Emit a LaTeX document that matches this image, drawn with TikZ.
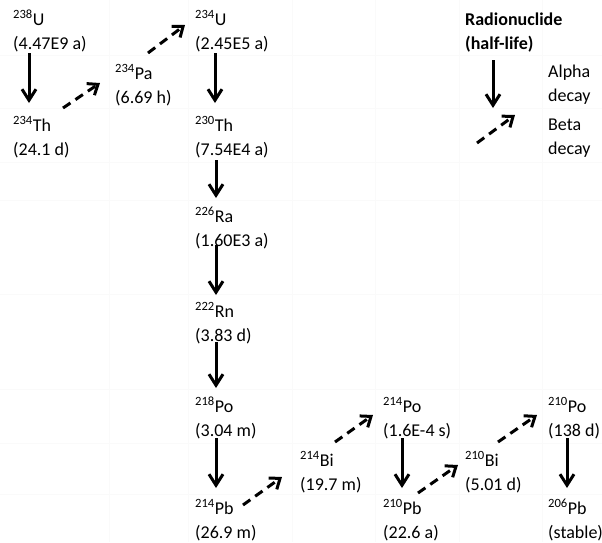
\documentclass[tikz,border=0pt]{standalone}
\usepackage{fontspec}
\setmainfont{Carlito}
\usetikzlibrary{arrows.meta,calc}
\definecolor{gridc}{RGB}{250,250,250}
\begin{document}
\begin{tikzpicture}[x=1pt,y=-1pt,
  nuc/.style={anchor=base west,inner sep=0pt,font=\fontsize{18}{24}\selectfont},
  alphaarr/.style={line width=3pt,-{Straight Barb[length=11pt,width=14pt,line width=3pt]}},
  betaarr/.style={line width=3pt,dash pattern=on 9pt off 6pt,-{Straight Barb[length=9pt,width=14pt,line width=3pt]}},
  gridline/.style={draw=gridc,line width=0.6pt}]
\useasboundingbox (0,0) rectangle (602,542);
\fill[white] (0,0) rectangle (602,542);
% faint table grid
\foreach \yy in {55,108,162,200,294,389,443,494}
  \draw[gridline] (0,\yy) -- (602,\yy);
\foreach \xx in {109,188,292,375,459,542}
  \draw[gridline] (\xx,0) -- (\xx,542);
% nuclides
\node[nuc] (u238)  at (13,25)  {\begin{tabular}[t]{@{}l@{}}\textsuperscript{238}U\\(4.47E9 a)\end{tabular}};
\node[nuc] (th234) at (13,131) {\begin{tabular}[t]{@{}l@{}}\textsuperscript{234}Th\\(24.1 d)\end{tabular}};
\node[nuc] (pa234) at (115,79) {\begin{tabular}[t]{@{}l@{}}\textsuperscript{234}Pa\\(6.69 h)\end{tabular}};
\node[nuc] (u234)  at (195,25) {\begin{tabular}[t]{@{}l@{}}\textsuperscript{234}U\\(2.45E5 a)\end{tabular}};
\node[nuc] (th230) at (195,131) {\begin{tabular}[t]{@{}l@{}}\textsuperscript{230}Th\\(7.54E4 a)\end{tabular}};
\node[nuc] (ra226) at (195,222) {\begin{tabular}[t]{@{}l@{}}\textsuperscript{226}Ra\\(1.60E3 a)\end{tabular}};
\node[nuc] (rn222) at (195,317) {\begin{tabular}[t]{@{}l@{}}\textsuperscript{222}Rn\\(3.83 d)\end{tabular}};
\node[nuc] (po218) at (195,412) {\begin{tabular}[t]{@{}l@{}}\textsuperscript{218}Po\\(3.04 m)\end{tabular}};
\node[nuc] (pb214) at (195,514) {\begin{tabular}[t]{@{}l@{}}\textsuperscript{214}Pb\\(26.9 m)\end{tabular}};
\node[nuc] (bi214) at (300,466) {\begin{tabular}[t]{@{}l@{}}\textsuperscript{214}Bi\\(19.7 m)\end{tabular}};
\node[nuc] (po214) at (383,412) {\begin{tabular}[t]{@{}l@{}}\textsuperscript{214}Po\\(1.6E-4 s)\end{tabular}};
\node[nuc] (pb210) at (383,514) {\begin{tabular}[t]{@{}l@{}}\textsuperscript{210}Pb\\(22.6 a)\end{tabular}};
\node[nuc] (bi210) at (465,466) {\begin{tabular}[t]{@{}l@{}}\textsuperscript{210}Bi\\(5.01 d)\end{tabular}};
\node[nuc] (po210) at (548,412) {\begin{tabular}[t]{@{}l@{}}\textsuperscript{210}Po\\(138 d)\end{tabular}};
\node[nuc] (pb206) at (548,514) {\begin{tabular}[t]{@{}l@{}}\textsuperscript{206}Pb\\(stable)\end{tabular}};
% legend
\node[nuc] (leg)   at (465,25) {\bfseries\begin{tabular}[t]{@{}l@{}}Radionuclide\\(half-life)\end{tabular}};
\node[nuc] (alab)  at (548,77) {\begin{tabular}[t]{@{}l@{}}Alpha\\decay\end{tabular}};
\node[nuc] (blab)  at (548,130) {\begin{tabular}[t]{@{}l@{}}Beta\\decay\end{tabular}};
% alpha decays
\draw[alphaarr] ($(u238.base west)+(16,28)$) -- ($(th234.base west)+(16,-28)$);
\draw[alphaarr] ($(u234.base west)+(20,28)$) -- ($(th230.base west)+(20,-28)$);
\draw[alphaarr] ($(th230.base west)+(21,29)$) -- ($(ra226.base west)+(21,-24)$);
\draw[alphaarr] ($(ra226.base west)+(21,23)$) -- ($(rn222.base west)+(21,-22)$);
\draw[alphaarr] ($(rn222.base west)+(21,25)$) -- ($(po218.base west)+(21,-24)$);
\draw[alphaarr] ($(po218.base west)+(21,26)$) -- ($(pb214.base west)+(21,-26)$);
\draw[alphaarr] ($(po214.base west)+(19,26)$) -- ($(pb210.base west)+(19,-26)$);
\draw[alphaarr] ($(po210.base west)+(19,26)$) -- ($(pb206.base west)+(19,-26)$);
% beta decays
\draw[betaarr] ($(th234.base west)+(50,-23)$) -- ($(pa234.base west)+(-15,4)$);
\draw[betaarr] ($(pa234.base west)+(33,-26)$) -- ($(u234.base west)+(-10,0)$);
\draw[betaarr] ($(pb214.base west)+(48,-9)$) -- ($(bi214.base west)+(-18,11)$);
\draw[betaarr] ($(bi214.base west)+(35,-24)$) -- ($(po214.base west)+(-10,3)$);
\draw[betaarr] ($(pb210.base west)+(35,-21)$) -- ($(bi210.base west)+(-7,-1)$);
\draw[betaarr] ($(bi210.base west)+(33,-24)$) -- ($(po210.base west)+(-11,3)$);
% legend arrows
\draw[alphaarr] ($(leg.base west)+(28,35)$) -- ($(alab.base west)+(-55,31)$);
\draw[betaarr] ($(blab.base west)+(-71,13)$) -- ($(blab.base west)+(-33,-15)$);
\end{tikzpicture}
\end{document}
